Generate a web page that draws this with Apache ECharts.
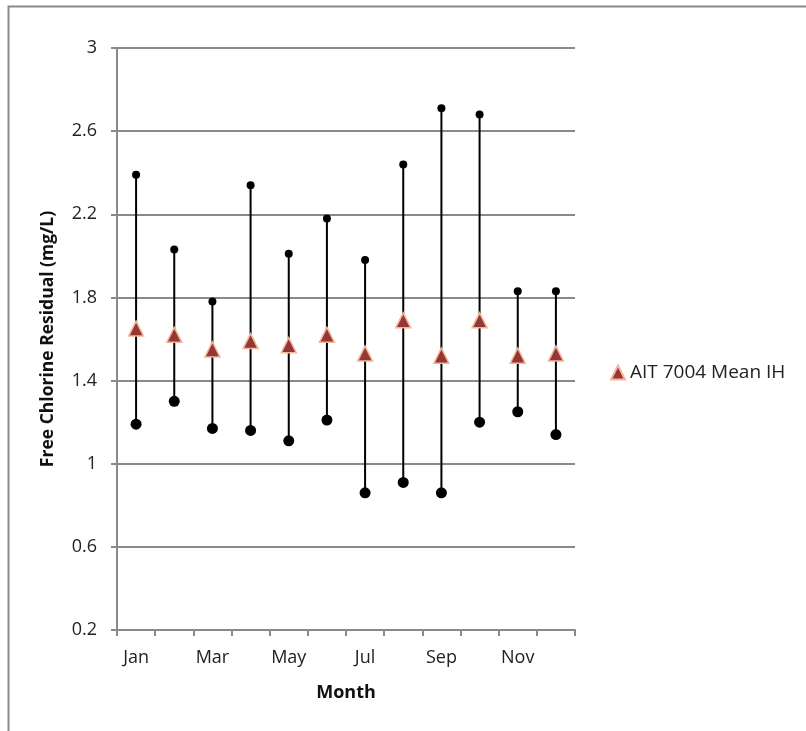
<!DOCTYPE html>
<html><head><meta charset="utf-8">
<script src="https://cdn.jsdelivr.net/npm/echarts@6/dist/echarts.min.js"></script>
<style>html,body{margin:0;padding:0;background:#fff}#c{width:806px;height:731px}</style>
</head><body><div id="c"></div>
<script>
const months = ['Jan','Feb','Mar','Apr','May','Jun','Jul','Aug','Sep','Oct','Nov','Dec'];
const maxVals = [2.39, 2.03, 1.78, 2.34, 2.01, 2.18, 1.98, 2.44, 2.71, 2.68, 1.83, 1.83];
const minVals = [1.19, 1.30, 1.17, 1.16, 1.11, 1.21, 0.86, 0.91, 0.86, 1.20, 1.25, 1.14];
const meanVals = [1.65, 1.62, 1.55, 1.59, 1.57, 1.62, 1.53, 1.69, 1.52, 1.69, 1.52, 1.53];
const yTicks = [0.2, 0.6, 1, 1.4, 1.8, 2.2, 2.6, 3];

const chart = echarts.init(document.getElementById('c'), null, {renderer:'canvas'});
const font = "'Open Sans', 'Liberation Sans', sans-serif";
chart.setOption({
  animation: false,
  backgroundColor: '#fff',
  graphic: [{
    type: 'rect', left: 6, top: 4, shape: {width: 900, height: 900},
    style: {fill: 'none', stroke: '#8a8a8a', lineWidth: 2}, silent: true, z: -10
  }],
  grid: {left: 117, right: 231, top: 48, bottom: 101},
  legend: {
    data: [{name: 'AIT 7004 Mean IH', icon: 'triangle'}],
    left: 605, top: 358, itemWidth: 14, itemHeight: 14, itemGap: 6,
    textStyle: {fontFamily: font, fontSize: 19, color: '#222'}
  },
  xAxis: {
    type: 'category', data: months, boundaryGap: true,
    name: 'Month', nameLocation: 'middle', nameGap: 54,
    nameTextStyle: {fontFamily: font, fontSize: 18, fontWeight: 'bold', color: '#111'},
    axisLine: {lineStyle: {color: '#8a8a8a', width: 2}},
    axisTick: {show: true, interval: 0, length: 6, lineStyle: {color: '#8a8a8a', width: 2}},
    axisLabel: {interval: 1, margin: 19, fontFamily: font, fontSize: 18, color: '#222'},
    splitLine: {show: false}
  },
  yAxis: {
    type: 'value', min: 0.2, max: 3, interval: 0.4,
    name: 'Free Chlorine Residual (mg/L)', nameLocation: 'middle', nameGap: 60,
    nameTextStyle: {fontFamily: font, fontSize: 17.5, fontWeight: 'bold', color: '#111'},
    axisLine: {show: true, lineStyle: {color: '#8a8a8a', width: 2}},
    axisTick: {show: true, length: 6, lineStyle: {color: '#8a8a8a', width: 2}},
    axisLabel: {margin: 20, fontFamily: font, fontSize: 18, color: '#222',
      formatter: v => { const t = yTicks.find(x => Math.abs(x - v) < 1e-6); return t === undefined ? '' : String(t); }},
    splitLine: {show: true, lineStyle: {color: '#8a8a8a', width: 2}}
  },
  series: [
    {
      type: 'custom', name: 'range',
      data: months.map((m, i) => [i, minVals[i], maxVals[i]]),
      renderItem: (params, api) => {
        const lo = api.coord([api.value(0), api.value(1)]);
        const hi = api.coord([api.value(0), api.value(2)]);
        return {type: 'line', shape: {x1: lo[0], y1: lo[1], x2: hi[0], y2: hi[1]},
          style: {stroke: '#000', lineWidth: 2}};
      },
      z: 2
    },
    {type: 'scatter', name: 'max', data: maxVals, symbol: 'circle', symbolSize: 8,
      itemStyle: {color: '#000', opacity: 1}, z: 3},
    {type: 'scatter', name: 'min', data: minVals, symbol: 'circle', symbolSize: 11,
      itemStyle: {color: '#000', opacity: 1}, z: 3},
    {type: 'scatter', name: 'AIT 7004 Mean IH', data: meanVals, symbol: 'triangle', symbolSize: [15, 15],
      itemStyle: {color: '#953735', borderColor: '#f5b59a', borderWidth: 1.5, opacity: 1}, z: 4}
  ]
});
</script></body></html>
